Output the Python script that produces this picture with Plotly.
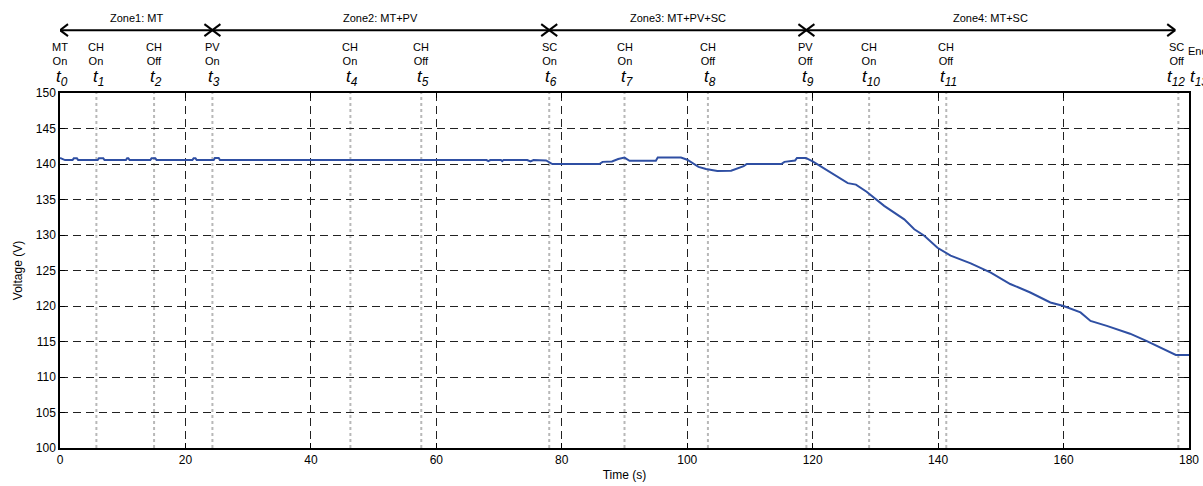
import plotly.graph_objects as go

# ---- data ----
time_s = [0, 0.8, 2.0, 2.2, 2.7, 2.9, 6.0, 6.2, 6.9, 7.1, 10.5, 10.7, 10.9, 11.1,
          14.4, 14.6, 15.2, 15.4, 21.1, 21.3, 21.6, 21.8, 24.5, 24.7, 25.3, 25.5,
          68.0, 68.3, 68.6, 70.3, 70.5, 70.7, 74.5, 75.0, 75.5, 77.5, 78.5,
          86.0, 86.5, 88.0, 89.0, 90.0, 90.8, 95.0, 95.3, 99.0, 100.0, 101.8,
          103.0, 104.8, 107.0, 109.0, 109.5, 115.0, 115.5, 117.2, 117.5, 118.9,
          120.0, 123.0, 125.6, 126.9, 128.6, 131.4, 134.6, 136.2, 137.8, 139.9,
          142.0, 145.2, 148.4, 151.5, 154.7, 157.9, 160.0, 162.7, 164.3, 166.9,
          170.6, 173.2, 175.9, 177.9, 180.0]
voltage_v = [140.85, 140.55, 140.55, 140.8, 140.8, 140.55, 140.55, 140.8, 140.8, 140.55,
             140.55, 140.8, 140.8, 140.55, 140.55, 140.8, 140.8, 140.55, 140.55, 140.8,
             140.8, 140.55, 140.55, 140.85, 140.85, 140.55,
             140.55, 140.4, 140.55, 140.55, 140.4, 140.55, 140.55, 140.35, 140.55, 140.5, 140.0,
             140.0, 140.3, 140.35, 140.7, 140.9, 140.45, 140.45, 140.9, 140.9, 140.6, 139.6,
             139.3, 139.0, 139.05, 139.7, 140.0, 140.0, 140.3, 140.5, 140.85, 140.85,
             140.37, 138.7, 137.3, 137.1, 136.1, 134.1, 132.2, 130.8, 129.9, 128.2,
             127.1, 126.0, 124.7, 123.1, 121.9, 120.5, 120.0, 119.1, 117.9, 117.2,
             116.1, 115.1, 114.0, 113.1, 113.1]

event_times = [0, 5.8, 15, 24.3, 46.3, 57.6, 78, 90, 103.3, 119, 129, 141.3, 178.3, 180]
event_labels = ["MT<br>On", "CH<br>On", "CH<br>Off", "PV<br>On", "CH<br>On", "CH<br>Off",
                "SC<br>On", "CH<br>On", "CH<br>Off", "PV<br>Off", "CH<br>On", "CH<br>Off",
                "SC<br>Off", "End"]
event_names = ["0", "1", "2", "3", "4", "5", "6", "7", "8", "9", "10", "11", "12", "13"]

zone_names = ["Zone1: MT", "Zone2: MT+PV", "Zone3: MT+PV+SC", "Zone4: MT+SC"]
zone_start = [0, 24.3, 78, 119]
zone_end = [24.3, 78, 119, 177.8]

x_ticks = [0, 20, 40, 60, 80, 100, 120, 140, 160, 180]
y_ticks = [100, 105, 110, 115, 120, 125, 130, 135, 140, 145, 150]

FONT = "Liberation Sans, Arial, sans-serif"

fig = go.Figure()
fig.add_trace(go.Scatter(x=time_s, y=voltage_v, mode="lines",
                         line=dict(color="#2f4fa3", width=2), showlegend=False))

shapes = []
annotations = []

# event dotted lines
for t in event_times[1:-1]:
    shapes.append(dict(type="line", xref="x", yref="paper", x0=t, x1=t, y0=0, y1=1,
                       line=dict(color="#b8b8b8", width=2, dash="dot"), layer="below"))

# zone arrows
ARROW_Y = 1.177
for name, a, b in zip(zone_names, zone_start, zone_end):
    shapes.append(dict(type="line", xref="x", yref="paper", x0=a, x1=b, y0=ARROW_Y, y1=ARROW_Y,
                       line=dict(color="black", width=2)))
    for tip, sgn in ((a, 1), (b, -1)):
        for dy in (6, -6):
            shapes.append(dict(type="line", xref="x", yref="paper",
                               xsizemode="pixel", xanchor=tip, x0=0, x1=sgn * 8,
                               ysizemode="pixel", yanchor=ARROW_Y, y0=0, y1=dy,
                               line=dict(color="black", width=2)))
    annotations.append(dict(x=(a + b) / 2, y=1.211, xref="x", yref="paper", text=name,
                            xanchor="center", yanchor="middle",
                            showarrow=False, font=dict(size=11, family=FONT, color="black")))

# event labels
for t, lab, nm in zip(event_times, event_labels, event_names):
    if lab == "End":
        annotations.append(dict(x=t, y=1.117, xref="x", yref="paper", text=lab, xanchor="left",
                                yanchor="middle", xshift=-3, showarrow=False,
                                font=dict(size=11, family=FONT, color="black")))
        annotations.append(dict(x=t, y=1.042, xref="x", yref="paper",
                                text="<i>t<sub>" + nm + "</sub></i>", xanchor="left",
                                yanchor="middle", xshift=-1,
                                showarrow=False, font=dict(size=17, family=FONT, color="black")))
    else:
        shift = -2 if nm == "12" else 2
        annotations.append(dict(x=t, y=1.110, xref="x", yref="paper", text=lab,
                                xanchor="center", yanchor="middle", showarrow=False,
                                xshift=-1 if nm == "12" else 0,
                                font=dict(size=11, family=FONT, color="black")))
        annotations.append(dict(x=t, y=1.042, xref="x", yref="paper",
                                text="<i>t<sub>" + nm + "</sub></i>", xshift=shift,
                                xanchor="center", yanchor="middle",
                                showarrow=False, font=dict(size=17, family=FONT, color="black")))

fig.update_layout(
    width=1203, height=486,
    margin=dict(l=60, r=14, t=93, b=38),
    paper_bgcolor="white", plot_bgcolor="white",
    font=dict(family=FONT, size=12, color="black"),
    shapes=shapes, annotations=annotations,
)
fig.update_xaxes(range=[0, 180], tickvals=x_ticks, showgrid=True, gridcolor="#222",
                 griddash="8px,5px", gridwidth=1, showline=True, linecolor="black", linewidth=1.5,
                 mirror="ticks", ticks="inside", ticklen=5, tickcolor="black", zeroline=False,
                 automargin=False,
                 title=dict(text="Time (s)", font=dict(size=12), standoff=4),
                 tickfont=dict(size=12))
fig.update_yaxes(range=[100, 150], tickvals=y_ticks, showgrid=True, gridcolor="#222",
                 griddash="8px,5px", gridwidth=1, showline=True, linecolor="black", linewidth=1.5,
                 mirror="ticks", ticks="inside", ticklen=5, tickcolor="black", zeroline=False,
                 automargin=False,
                 title=dict(text="Voltage (V)", font=dict(size=12), standoff=11),
                 tickfont=dict(size=12))

fig.write_html("out.html", config={"displayModeBar": False},
               post_script="document.body.style.margin='0';document.body.style.overflow='hidden';")
